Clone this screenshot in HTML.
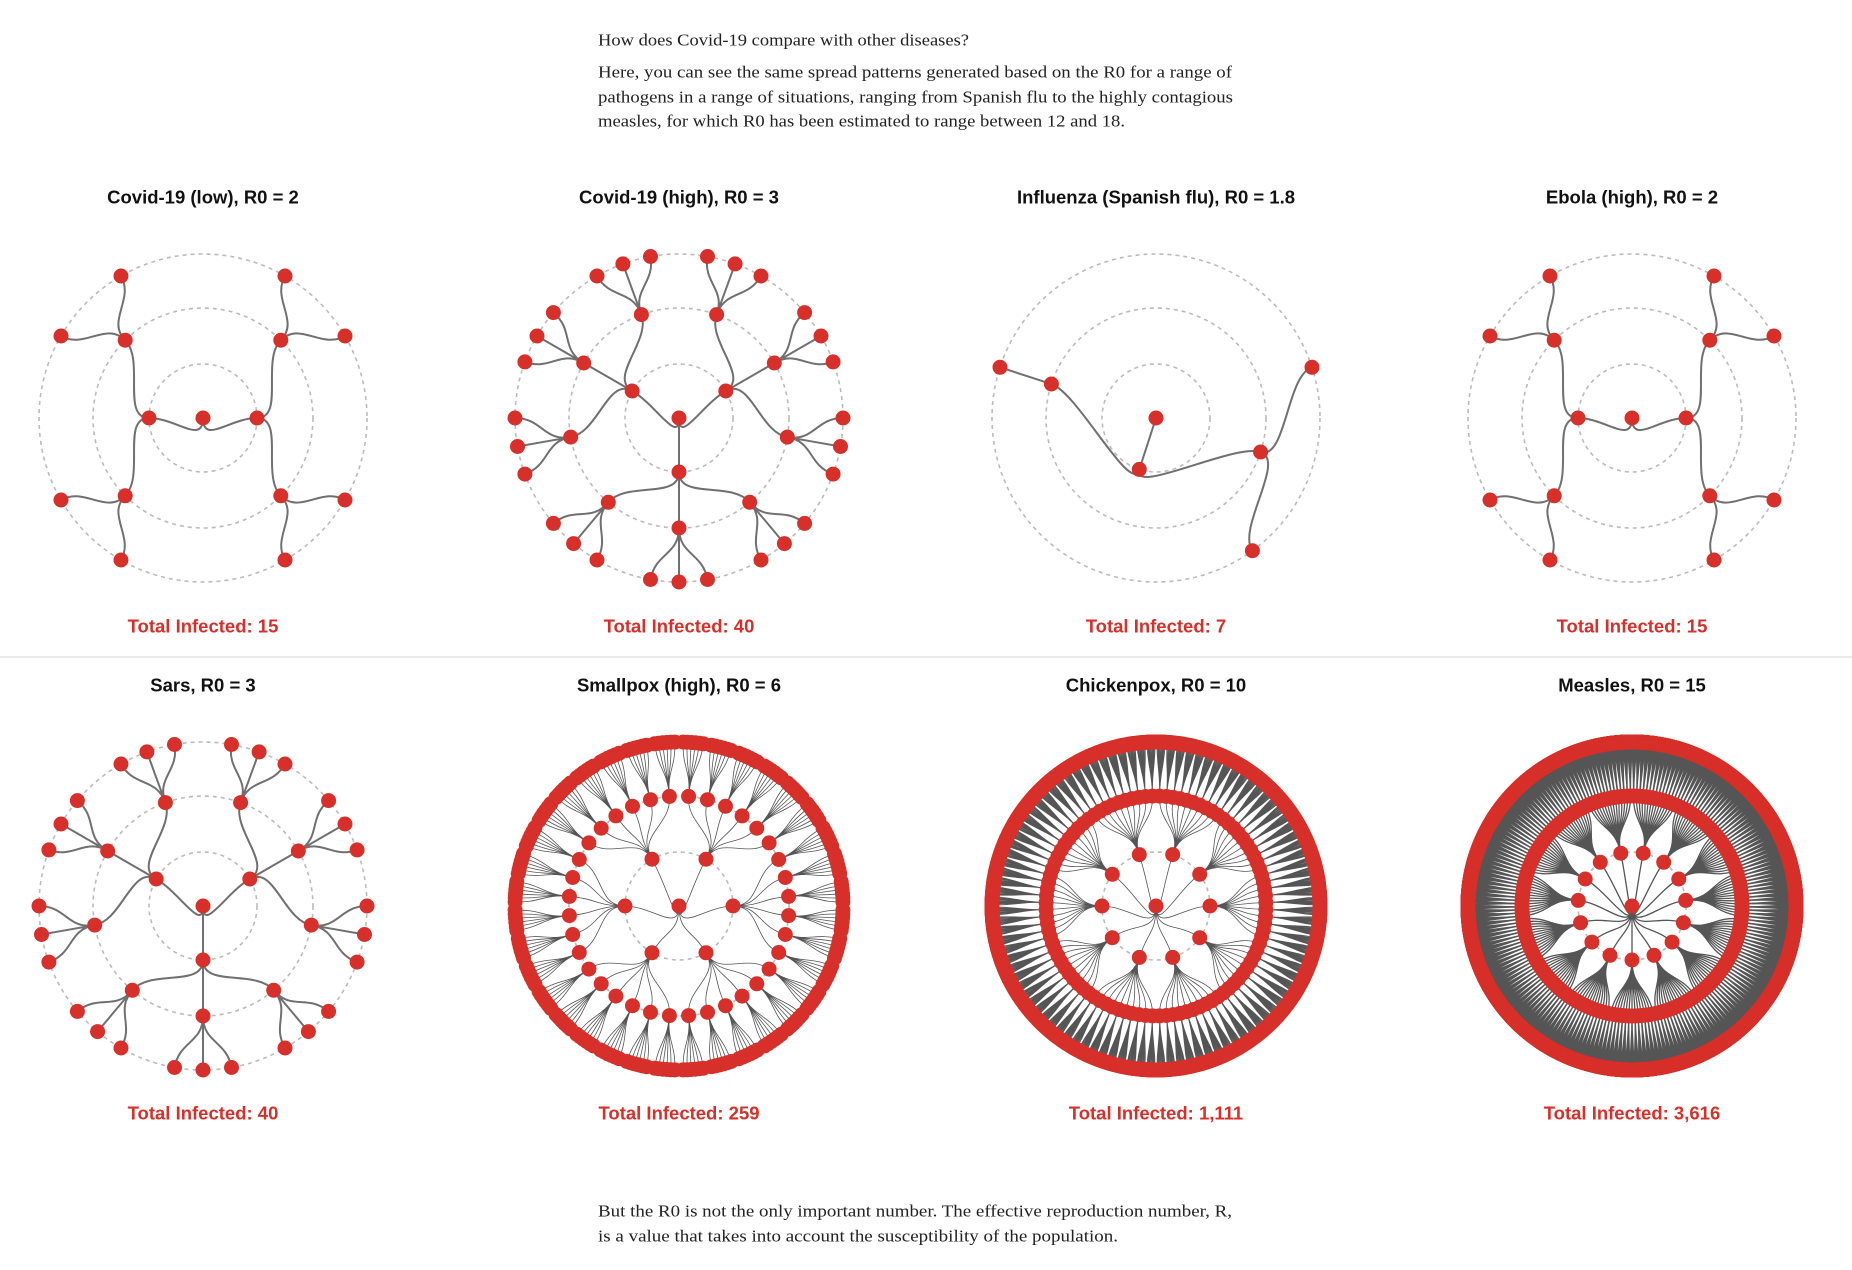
<!DOCTYPE html>
<html><head><meta charset="utf-8"><style>
html,body{margin:0;padding:0;background:#fff;}
svg{display:block;}
.intro{font-family:"Liberation Serif",serif;font-size:17px;fill:#222;}
.title{font-family:"Liberation Sans",sans-serif;font-size:18.5px;font-weight:bold;fill:#111;}
.total{font-family:"Liberation Sans",sans-serif;font-size:18.5px;font-weight:bold;fill:#d7302a;}
</style></head><body>
<svg id="chart" width="1852" height="1270" viewBox="0 0 1852 1270" xmlns="http://www.w3.org/2000/svg">
<g class="intro" dominant-baseline="central">
<text x="598" y="40" textLength="371" lengthAdjust="spacingAndGlyphs">How does Covid-19 compare with other diseases?</text>
<text x="598" y="72" textLength="634" lengthAdjust="spacingAndGlyphs">Here, you can see the same spread patterns generated based on the R0 for a range of</text>
<text x="598" y="97" textLength="635" lengthAdjust="spacingAndGlyphs">pathogens in a range of situations, ranging from Spanish flu to the highly contagious</text>
<text x="598" y="121" textLength="527" lengthAdjust="spacingAndGlyphs">measles, for which R0 has been estimated to range between 12 and 18.</text>
</g>
<line x1="0" y1="657" x2="1852" y2="657" stroke="#ddd" stroke-width="1.2"/>
<g class="intro" dominant-baseline="central">
<text x="598" y="1211" textLength="634" lengthAdjust="spacingAndGlyphs">But the R0 is not the only important number. The effective reproduction number, R,</text>
<text x="598" y="1236" textLength="520" lengthAdjust="spacingAndGlyphs">is a value that takes into account the susceptibility of the population.</text>
</g>
<g id="panels"></g>
</svg>
<script>
const titles = ["Covid-19 (low), R0 = 2","Covid-19 (high), R0 = 3","Influenza (Spanish flu), R0 = 1.8","Ebola (high), R0 = 2","Sars, R0 = 3","Smallpox (high), R0 = 6","Chickenpox, R0 = 10","Measles, R0 = 15"];
const branching = [2, 3, 0, 2, 3, 6, 10, 15];
const influenzaChildren = [1, 2, 2, 1];
const totals = [15, 40, 7, 15, 40, 259, 1111, 3616];

const NS = "http://www.w3.org/2000/svg";
const colX = [203, 679, 1156, 1632];
const rowY = [418, 906];
const titleY = [197, 685];
const totalY = [626, 1113];
const radii = [0, 54, 110, 164];
const RED = "#d7302a";
const root = document.getElementById('panels');

function mk(tag, attrs, parent) {
  const e = document.createElementNS(NS, tag);
  for (const k in attrs) e.setAttribute(k, attrs[k]);
  parent.appendChild(e);
  return e;
}
function pt(cx, cy, a, r) {
  const rad = a * Math.PI / 180;
  return [cx + r * Math.sin(rad), cy - r * Math.cos(rad)];
}
function buildTree(i) {
  const counts = [];
  if (branching[i] === 0) counts.push(...influenzaChildren);
  else {
    const b = branching[i];
    let n = 1;
    for (let d = 0; d < 3; d++) { for (let k = 0; k < n; k++) counts.push(b); n *= b; }
  }
  const nodes = [{depth: 0, parent: null, children: []}];
  let ci = 0;
  for (let idx = 0; idx < nodes.length && ci < counts.length; idx++) {
    const p = nodes[idx];
    if (p.depth >= 3) break;
    const c = counts[ci++];
    for (let k = 0; k < c; k++) {
      const n = {depth: p.depth + 1, parent: p, children: []};
      p.children.push(n);
      nodes.push(n);
    }
  }
  const leaves = [];
  (function dfs(n) { if (!n.children.length) leaves.push(n); else n.children.forEach(dfs); })(nodes[0]);
  let pos = 1, prev = null;
  leaves.forEach(l => {
    if (prev) pos += (prev.parent === l.parent) ? 1 : 2;
    l.u = pos; prev = l;
  });
  const total = pos + 1;
  (function place(n) {
    if (n.children.length) {
      n.children.forEach(place);
      n.u = (n.children[0].u + n.children[n.children.length - 1].u) / 2;
    }
  })(nodes[0]);
  nodes.forEach(n => n.angle = n.u / total * 360);
  return nodes;
}

for (let i = 0; i < titles.length; i++) {
  const cx = colX[i % 4], cy = rowY[Math.floor(i / 4)];
  const g = mk('g', {}, root);
  
  
  const t = mk('text', {x: cx, y: titleY[Math.floor(i / 4)], 'text-anchor': 'middle', 'dominant-baseline': 'central', class: 'title'}, g);
  t.textContent = titles[i];
  
  
  const tt = mk('text', {x: cx, y: totalY[Math.floor(i / 4)], 'text-anchor': 'middle', 'dominant-baseline': 'central', class: 'total'}, g);
  tt.textContent = 'Total Infected: ' + totals[i].toLocaleString('en-US');
  
  
  for (let r = 1; r <= 3; r++) {
    const c = mk('circle', {cx: cx, cy: cy, r: radii[r], fill: 'none', stroke: '#bbb', 'stroke-width': 1.6, 'stroke-dasharray': '4 4'}, g);
    
    
  }
  const nodes = buildTree(i);
  const dense = nodes.length > 100;
  const veryDense = nodes.length > 2000;
  const linkG = mk('g', {fill: 'none', stroke: dense ? '#555' : '#707070'}, g);
  
  
  let dAll = '';
  nodes.forEach(n => {
    if (!n.parent) return;
    const p = n.parent;
    const r0 = radii[p.depth], r1 = radii[n.depth], rm = (r0 + r1) / 2;
    const a0 = p.angle;
    const s = pt(cx, cy, a0, r0), c1 = pt(cx, cy, a0, rm), c2 = pt(cx, cy, n.angle, rm), e = pt(cx, cy, n.angle, r1);
    dAll += 'M' + s[0].toFixed(1) + ',' + s[1].toFixed(1) + 'C' + c1[0].toFixed(1) + ',' + c1[1].toFixed(1) + ' ' + c2[0].toFixed(1) + ',' + c2[1].toFixed(1) + ' ' + e[0].toFixed(1) + ',' + e[1].toFixed(1);
  });
  const path = mk('path', {d: dAll, 'stroke-width': veryDense ? 1.3 : (dense ? 0.8 : 2)}, linkG);
  
  
  const nodeG = mk('g', {fill: RED}, g);
  
  
  nodes.forEach(n => {
    const p = pt(cx, cy, n.angle, radii[n.depth]);
    const c = mk('circle', {cx: p[0].toFixed(1), cy: p[1].toFixed(1), r: 7.5}, nodeG);
    
    
  });
}
</script>
</body></html>
